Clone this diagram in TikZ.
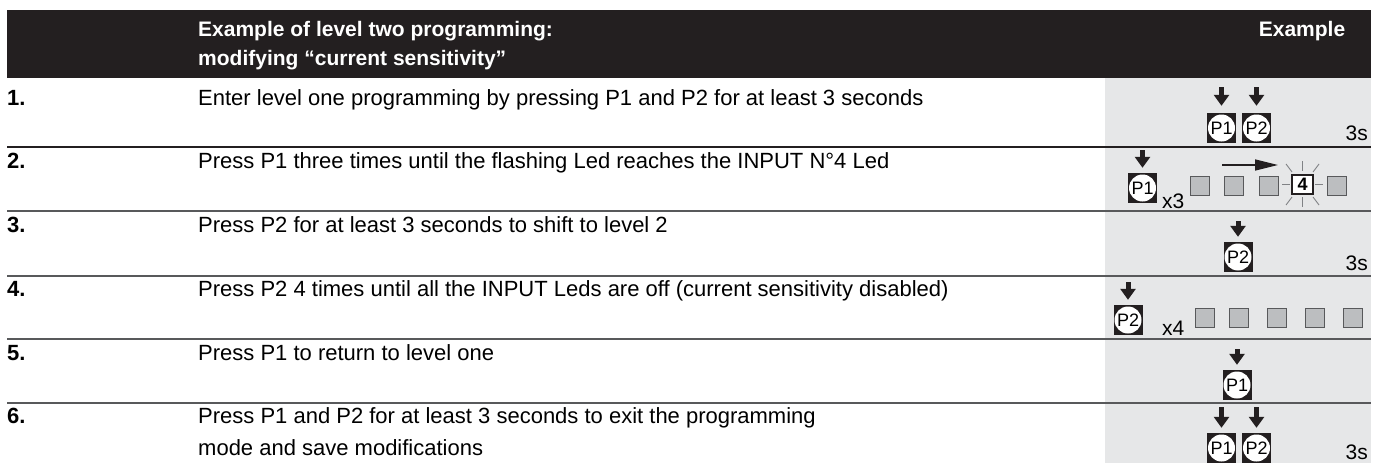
\documentclass[tikz,border=0pt]{standalone}
\usepackage{fontspec}
\setmainfont{Liberation Sans}
\usetikzlibrary{arrows.meta}
\definecolor{hdr}{HTML}{231F20}
\definecolor{panel}{HTML}{E6E7E8}
\definecolor{rulecol}{HTML}{58595B}
\definecolor{ledfill}{HTML}{BCBEC0}
\definecolor{raycol}{HTML}{808285}
\tikzset{
  txt/.style={anchor=base west, inner sep=0, font=\fontsize{22}{26}\selectfont},
  numtxt/.style={anchor=base west, inner sep=0, font=\fontsize{22}{26}\selectfont\bfseries},
  hdrtxt/.style={anchor=base west, inner sep=0, text=white, font=\fontsize{21}{25}\selectfont\bfseries},
  smalltxt/.style={inner sep=0, font=\fontsize{21}{24}\selectfont},
  btnbox/.style={fill=hdr, minimum width=29, minimum height=30, inner sep=0},
  btnface/.style={circle, fill=white, minimum size=27, inner sep=0, font=\fontsize{18}{18}\selectfont},
  pressarrow/.style={draw=hdr, line width=5, -{Triangle[width=15,length=11]}},
  slidearrow/.style={draw=hdr, line width=1.5, -{Triangle[width=11,length=23]}},
  led/.style={draw=rulecol, fill=ledfill, line width=1, minimum width=19, minimum height=19, inner sep=0},
  ledon/.style={draw=hdr, fill=white, line width=2, minimum width=21, minimum height=19, inner sep=0, font=\fontsize{18}{18}\selectfont\bfseries},
  rayline/.style={draw=raycol, line width=0.9},
  rowrule/.style={draw=rulecol, line width=1.5},
  toprule/.style={draw=hdr, line width=1.5}
}
\begin{document}
\begin{tikzpicture}[x=1pt,y=-1pt]
\useasboundingbox (0,0) rectangle (1385,463);
% backgrounds
\fill[panel] (1105,78) rectangle (1371,463);
\fill[hdr] (7,10) rectangle (1371,78);
% header
\node[hdrtxt] (h1) at (198,36) {Example of level two programming:};
\node[hdrtxt] (h2) at (198,65) {modifying “current sensitivity”};
\node[hdrtxt, anchor=base] (h3) at (1302,36) {Example};
% row rules
\draw[toprule] (7,147) -- (1371,147);
\draw[rowrule] (7,211) -- (1371,211);
\draw[rowrule] (7,276) -- (1371,276);
\draw[rowrule] (7,339) -- (1371,339);
\draw[rowrule] (7,403) -- (1371,403);
% step numbers and texts
\node[numtxt] (n1) at (7,105) {1.};
\node[txt] (t1) at (198,105) {Enter level one programming by pressing P1 and P2 for at least 3 seconds};
\node[numtxt] (n2) at (7,168) {2.};
\node[txt] (t2) at (198,168) {Press P1 three times until the flashing Led reaches the INPUT N°4 Led};
\node[numtxt] (n3) at (7,232) {3.};
\node[txt] (t3) at (198,232) {Press P2 for at least 3 seconds to shift to level 2};
\node[numtxt] (n4) at (7,296) {4.};
\node[txt] (t4) at (198,296) {Press P2 4 times until all the INPUT Leds are off (current sensitivity disabled)};
\node[numtxt] (n5) at (7,360) {5.};
\node[txt] (t5) at (198,360) {Press P1 to return to level one};
\node[numtxt] (n6) at (7,423) {6.};
\node[txt] (t6) at (198,423) {Press P1 and P2 for at least 3 seconds to exit the programming};
\node[txt] (t6b) at (198,455) {mode and save modifications};
% ---- row 1
\node[btnbox] (r1a) at (1221.5,128) {};
\node[btnface] (r1af) at (r1a) {P1};
\node[btnbox] (r1b) at (1256.5,128) {};
\node[btnface] (r1bf) at (r1b) {P2};
\coordinate (r1at) at (1221.5,87);
\coordinate (r1bt) at (1256.5,87);
\draw[pressarrow] (r1at) -- ([yshift=7]r1a.north);
\draw[pressarrow] (r1bt) -- ([yshift=7]r1b.north);
\node[smalltxt, anchor=base east] (s1) at (1368,140) {3s};
% ---- row 2
\node[btnbox] (r2a) at (1142.5,188) {};
\node[btnface] (r2af) at (r2a) {P1};
\coordinate (r2at) at (1142.5,150);
\draw[pressarrow] (r2at) -- ([yshift=5]r2a.north);
\node[smalltxt, anchor=base west] (x3) at (1162,208) {x3};
\node[led] (l21) at (1200,186) {};
\node[led] (l22) at (1234,186) {};
\node[led] (l23) at (1268.5,186) {};
\node[ledon] (l24) at (1302.5,184) {4};
\node[led] (l25) at (1337,186) {};
\coordinate (sl1) at (1222,165);
\coordinate (sl2) at (1278,165);
\draw[slidearrow] (sl1) -- (sl2);
\draw[rayline] (1302.5,161) -- (1302.5,171);
\draw[rayline] (1302.5,197) -- (1302.5,207);
\draw[rayline] (1282,184) -- (1290,184);
\draw[rayline] (1315,184) -- (1323,184);
\draw[rayline] (1286,164) -- (1292,172);
\draw[rayline] (1313,172) -- (1319,164);
\draw[rayline] (1292,197) -- (1286,205);
\draw[rayline] (1313,197) -- (1319,205);
% ---- row 3
\node[btnbox] (r3a) at (1238,257) {};
\node[btnface] (r3af) at (r3a) {P2};
\coordinate (r3at) at (1238,221);
\draw[pressarrow] (r3at) -- ([yshift=5]r3a.north);
\node[smalltxt, anchor=base east] (s3) at (1368,270) {3s};
% ---- row 4
\node[btnbox] (r4a) at (1128,320) {};
\node[btnface] (r4af) at (r4a) {P2};
\coordinate (r4at) at (1128,282);
\draw[pressarrow] (r4at) -- ([yshift=5]r4a.north);
\node[smalltxt, anchor=base west] (x4) at (1162,335) {x4};
\node[led] (l41) at (1205,317.5) {};
\node[led] (l42) at (1239,317.5) {};
\node[led] (l43) at (1277,317.5) {};
\node[led] (l44) at (1315,317.5) {};
\node[led] (l45) at (1352.5,317.5) {};
% ---- row 5
\node[btnbox] (r5a) at (1237,385) {};
\node[btnface] (r5af) at (r5a) {P1};
\coordinate (r5at) at (1237,349);
\draw[pressarrow] (r5at) -- ([yshift=5]r5a.north);
% ---- row 6
\node[btnbox] (r6a) at (1221.5,448) {};
\node[btnface] (r6af) at (r6a) {P1};
\node[btnbox] (r6b) at (1256.5,448) {};
\node[btnface] (r6bf) at (r6b) {P2};
\coordinate (r6at) at (1221.5,407);
\coordinate (r6bt) at (1256.5,407);
\draw[pressarrow] (r6at) -- ([yshift=5]r6a.north);
\draw[pressarrow] (r6bt) -- ([yshift=5]r6b.north);
\node[smalltxt, anchor=base east] (s6) at (1368,459) {3s};
\end{tikzpicture}
\end{document}
